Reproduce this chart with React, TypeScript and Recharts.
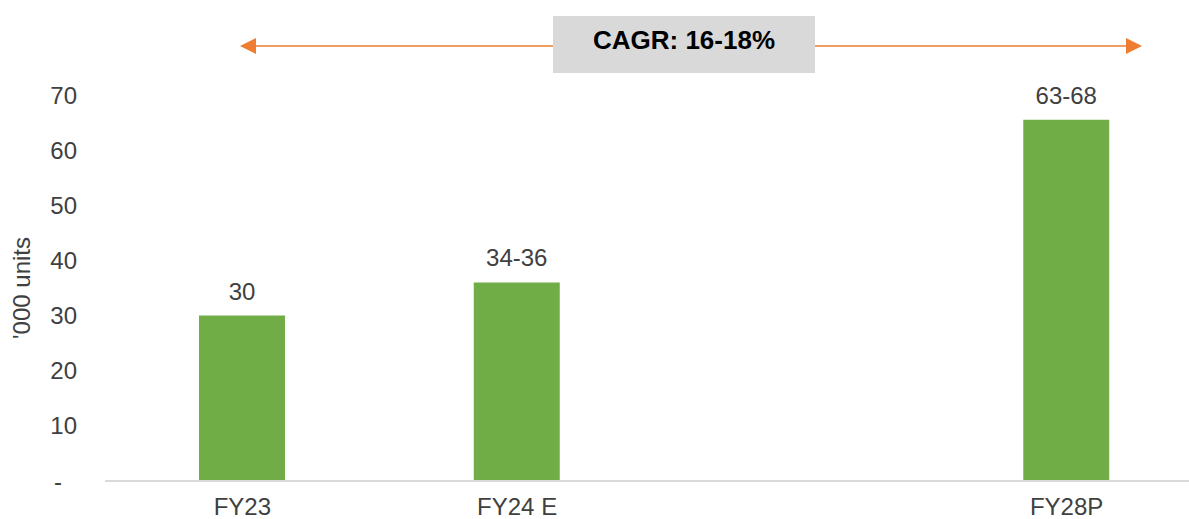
import React from 'react';
import { BarChart, Bar, XAxis, YAxis, LabelList } from 'recharts';

// years on the axis; the empty slot stands for the years skipped between FY24 and FY28
const categories = ['FY23', 'FY24 E', '', 'FY28P'];
const volumes = [30, 36, null, 65.5];
const volumeLabels = ['30', '34-36', '', '63-68'];
const yTicks = [0, 10, 20, 30, 40, 50, 60, 70];
const cagrText = 'CAGR: 16-18%';

const data = categories.map((c, i) => ({ name: c, value: volumes[i], label: volumeLabels[i] }));

const FONT = '"Liberation Sans", Arial, sans-serif';
const TEXT = '#404040';
const FS = 24;

const YTick = (props: any) => {
  const { x, y, payload } = props;
  const isZero = payload.value === 0;
  return (
    <text x={isZero ? x - 15 : x} y={y} dy="0.36em" textAnchor="end" fill={TEXT} fontSize={FS} fontFamily={FONT}>
      {isZero ? '-' : payload.value}
    </text>
  );
};

const App = () => {
  return (
    <div style={{ position: 'absolute', left: 0, top: 0, width: 1189, height: 519, overflow: 'hidden', background: '#fff' }}>
      <BarChart
        width={1210}
        height={519}
        data={data}
        margin={{ top: 95, right: 6, bottom: 0, left: 0 }}
        barCategoryGap={0}
      >
        <XAxis
          dataKey="name"
          axisLine={{ stroke: '#D9D9D9', strokeWidth: 2 }}
          tickLine={false}
          tickSize={0}
          tickMargin={17}
          height={38}
          interval={0}
          tick={{ fill: TEXT, fontSize: FS, fontFamily: FONT }}
        />
        <YAxis
          domain={[0, 70]}
          ticks={yTicks}
          width={105}
          axisLine={false}
          tickLine={false}
          tickSize={0}
          tickMargin={28}
          tick={<YTick />}
          label={{
            value: "'000 units",
            angle: -90,
            position: 'insideLeft',
            offset: 21,
            style: { fill: TEXT, fontSize: FS, fontFamily: FONT, textAnchor: 'middle' },
          }}
        />
        <Bar dataKey="value" fill="#70AD47" barSize={86} isAnimationActive={false}>
          <LabelList dataKey="label" position="top" offset={16} fill={TEXT} fontSize={FS} fontFamily={FONT} />
        </Bar>
      </BarChart>
      <svg width={1189} height={90} style={{ position: 'absolute', left: 0, top: 0 }}>
        <line x1={252} y1={46} x2={1130} y2={46} stroke="#ED7D31" strokeWidth={1.5} />
        <polygon points="240,46 256,38 256,54" fill="#ED7D31" />
        <polygon points="1142,46 1126,38 1126,54" fill="#ED7D31" />
        <rect x={553} y={16} width={262} height={57} fill="#D9D9D9" />
        <text x={684} y={49} textAnchor="middle" fontSize={26} fontWeight="bold" fontFamily={FONT} fill="#000">
          {cagrText}
        </text>
      </svg>
    </div>
  );
};

export default App;
